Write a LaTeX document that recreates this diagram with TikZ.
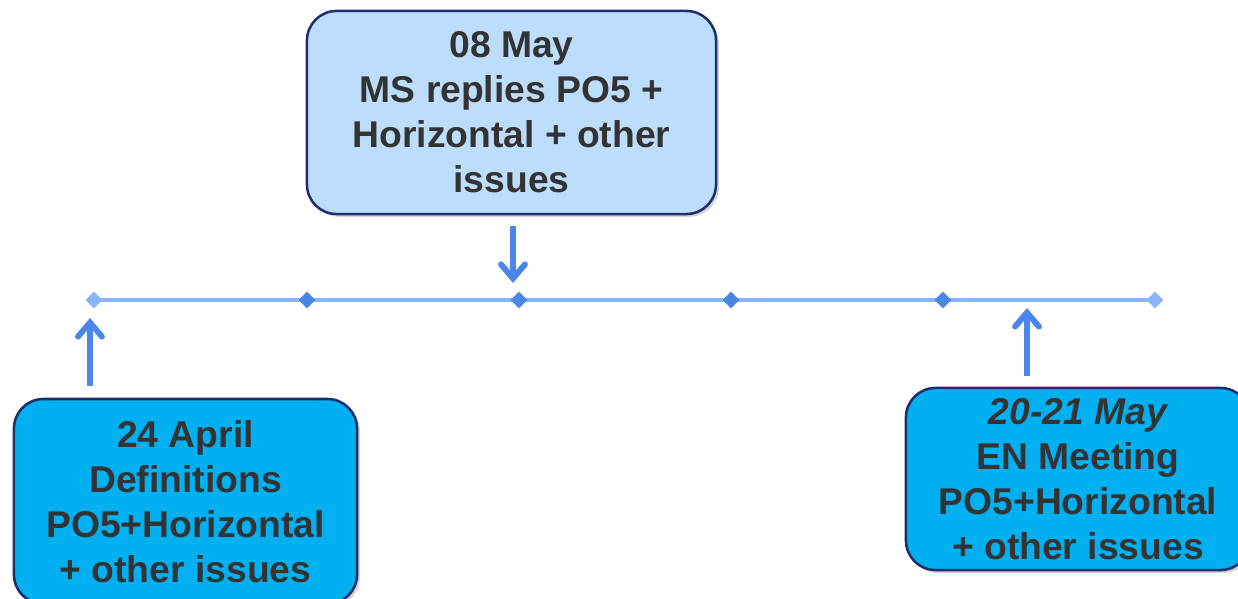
\documentclass[tikz,border=0pt]{standalone}
\usepackage{fontspec}
\setmainfont{Liberation Sans}
\usetikzlibrary{arrows.meta,shadows,shapes.geometric,positioning}
\definecolor{boxline}{HTML}{1F2F6E}
\definecolor{lightbox}{HTML}{BDDDFC}
\definecolor{darkbox}{HTML}{00B0F0}
\definecolor{txt}{HTML}{333333}
\definecolor{tline}{HTML}{8AB4F8}
\definecolor{tmark}{HTML}{4A86E8}
\tikzset{
  datebox/.style={draw=boxline, line width=1.8pt, rounded corners=21pt,
    inner sep=0pt, align=center, text=txt,
    font=\fontsize{26.5}{32}\selectfont\bfseries,
    drop shadow={shadow xshift=2pt, shadow yshift=-2pt, opacity=0.35}},
  tick/.style={diamond, fill=tmark, inner sep=0pt, minimum size=12pt},
  endtick/.style={tick, fill=tline},
  tlarrow/.style={draw=tmark, line width=4.2pt,
    -{Straight Barb[length=10pt,width=17pt,line cap=round]}}
}
\begin{document}
\begin{tikzpicture}[x=0.025cm,y=-0.025cm]
\useasboundingbox (0,0) rectangle (1238,599);
% time line
\draw[tline, line width=3.2pt] (94,300) -- (1155,300);
\foreach \i/\x in {1/307,2/519,3/731,4/943}
  \node[tick] (t\i) at (\x,300) {};
\node[endtick] (t0) at (94,300) {};
\node[endtick] (t5) at (1155,300) {};
% boxes
\node[datebox, fill=lightbox, minimum width=290.9pt, minimum height=144.4pt]
  (may) at (511.5,112.5) {08 May\\MS replies PO5 +\\Horizontal + other\\issues};
\node[datebox, fill=darkbox, minimum width=244pt, minimum height=145.8pt]
  (april) at (185.5,501.5) {24 April\\Definitions\\PO5+Horizontal\\+ other issues};
\node[datebox, fill=darkbox, minimum width=244.7pt, minimum height=129.5pt]
  (meeting) at (1078,479) {\itshape 20-21 May\\EN Meeting\\PO5+Horizontal\\+ other issues};
% arrows
\coordinate (mayA) at (513,226);
\coordinate (mayB) at (513,283);
\coordinate (aprA) at (90,386);
\coordinate (aprB) at (90,318);
\coordinate (meetA) at (1027,376);
\coordinate (meetB) at (1027,308);
\draw[tlarrow] (mayA) -- (mayB);
\draw[tlarrow] (aprA) -- (aprB);
\draw[tlarrow] (meetA) -- (meetB);
\end{tikzpicture}
\end{document}
